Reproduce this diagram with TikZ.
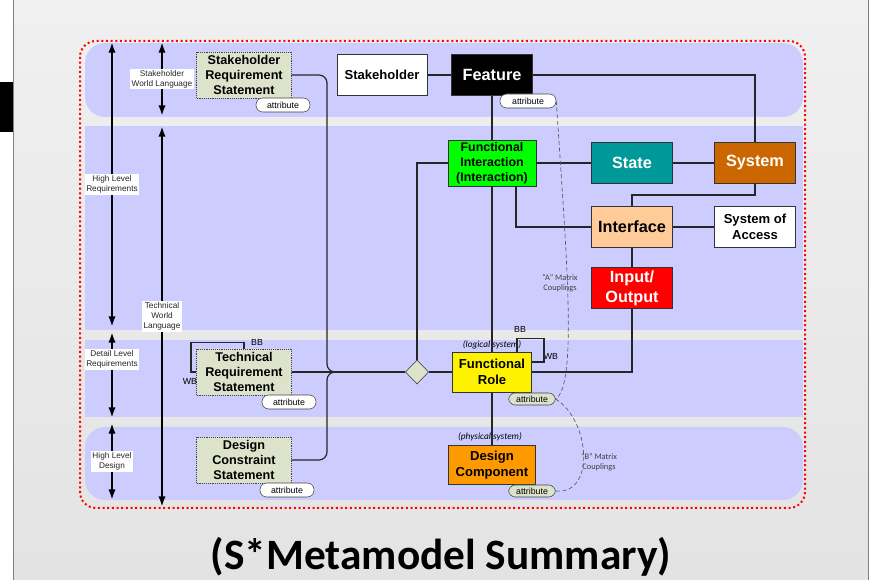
\documentclass[tikz,border=0pt]{standalone}
\usepackage{fontspec}
\setmainfont{Liberation Sans}
\newfontfamily\calibri{Carlito}
\usepackage{tikz}
\usetikzlibrary{shapes,arrows,arrows.meta}
\definecolor{bandblue}{HTML}{CCCCFF}
\definecolor{reqgreen}{HTML}{DDE2CB}
\definecolor{stateteal}{HTML}{009999}
\definecolor{sysbrown}{HTML}{CC6600}
\definecolor{ifpeach}{HTML}{FFCC99}
\definecolor{comporange}{HTML}{FF9900}
\definecolor{slidetop}{HTML}{F0F0F0}
\definecolor{slidebottom}{HTML}{E3E3E3}

\begin{document}
\begin{tikzpicture}[x=0.75pt,y=-0.75pt,
    block_req/.style ={rectangle, draw=black!75, densely dotted, fill=reqgreen,
      align=center, minimum width=71pt, minimum height=34.5pt, inner sep=0.5pt,
      font=\fontsize{9.5}{11.1}\selectfont\bfseries},
    block_center/.style ={rectangle, draw=black!80, fill=white,
      align=center, minimum width=61pt, minimum height=31pt, inner sep=1pt,
      font=\fontsize{9.8}{11.7}\selectfont\bfseries},
    block_big/.style ={block_center, font=\fontsize{12.2}{15}\selectfont\bfseries},
    attr/.style ={rectangle, rounded corners=5pt, draw=black!75, fill=white,
      minimum width=40.5pt, minimum height=10.5pt, inner sep=0pt,
      font=\fontsize{6.6}{7}\selectfont},
    band_label/.style ={fill=white, inner sep=1pt, align=center, text=black!85,
      font=\fontsize{6.2}{7.5}\selectfont},
    small_tag/.style ={inner sep=0pt, font=\fontsize{6.6}{7}\selectfont},
    note/.style ={inner sep=0pt, align=center, text=black!75,
      font=\calibri\fontsize{6.3}{7.5}\selectfont},
    line/.style ={draw=black!85, line width=0.9pt},
    level_span/.style ={draw, line width=1.6pt,
      {Latex[length=8pt,width=5.5pt]}-{Latex[length=8pt,width=5.5pt]}},
    couple/.style ={draw=black!65, densely dashed, line width=0.5pt}]
    \useasboundingbox (0,0) rectangle (871,580);
    % slide background
    \fill[white] (0,0) rectangle (871,580);
    \shade[top color=slidetop, bottom color=slidebottom] (13,0) rectangle (868,580);
    \draw[black!50] (13,0) -- (13,580);
    \draw[black!50] (868,0) -- (868,580);
    \fill[black] (0,82) rectangle (13,132);
    % level bands
    \fill[bandblue, rounded corners=15pt] (85,43) rectangle (803,117);
    \fill[bandblue] (85,126) rectangle (803,330);
    \fill[bandblue] (85,340) rectangle (803,417);
    \fill[bandblue, rounded corners=15pt] (85,427) rectangle (803,500);
    \draw[red, line width=1.5pt, dotted, rounded corners=12pt] (80,41) rectangle (805,508);

    % level arrows on the left
    \foreach \name/\x/\ya/\yb in {hlr/112/42/327, dlr/112/332/418, hld/112/423/500,
        swl/162/42/116, twl/162/126/507} {
      \coordinate (\name_top) at (\x,\ya);
      \coordinate (\name_bot) at (\x,\yb);
    }
    \draw[level_span] (hlr_top) -- node[band_label] (hlr) {High Level\\Requirements} (hlr_bot);
    \draw[level_span] (dlr_top) -- node[band_label, pos=0.32] (dlr) {Detail Level\\Requirements} (dlr_bot);
    \draw[level_span] (hld_top) -- node[band_label] (hld) {High Level\\Design} (hld_bot);
    \draw[level_span] (swl_top) -- node[band_label] (swl) {Stakeholder\\World Language} (swl_bot);
    \draw[level_span] (twl_top) -- node[band_label] (twl) {Technical\\World\\Language} (twl_bot);

    % stakeholder level - row 1
    \node[block_req] (srs) at (244,75) {Stakeholder\\Requirement\\Statement};
    \node[attr] (srs_att) at (283,105) {attribute};
    \node[block_center, minimum width=67.5pt] (stakeholder) at (382,75) {Stakeholder};
    \node[block_big, fill=black, text=white] (feature) at (492,75) {Feature};
    \node[attr, minimum width=42pt] (feature_att) at (528,101) {attribute};
    % high level requirements - row 2
    \node[block_center, fill=green, minimum width=66pt, minimum height=34.5pt, inner sep=0.5pt,
      font=\fontsize{9.3}{11.2}\selectfont\bfseries] (fi) at (492,163) {Functional\\Interaction\\(Interaction)};
    \node[block_big, fill=stateteal, text=white] (state) at (632,163) {State};
    \node[block_big, fill=sysbrown, text=white] (system) at (755,163) {System};
    \node[block_big, fill=ifpeach] (interface) at (632,227) {Interface};
    \node[block_center] (soa) at (755,227) {System of\\Access};
    \node[block_big, fill=red, text=white] (io) at (632,288) {Input/\\Output};
    % detail level - row 3
    \node[block_req] (trs) at (244,372) {Technical\\Requirement\\Statement};
    \node[attr] (trs_att) at (289,402) {attribute};
    \node[diamond, draw=black!80, fill=reqgreen, minimum width=17.5pt,
      minimum height=18pt, inner sep=0pt] (join) at (417,372) {};
    \node[block_center, fill=yellow, minimum width=59pt, minimum height=30pt] (fr) at (492,372) {Functional\\Role};
    \node[attr, fill=reqgreen, minimum width=35pt, minimum height=9pt] (fr_att) at (532,399) {attribute};
    \node[font=\calibri\itshape\fontsize{7}{8}\selectfont, inner sep=0pt] (logical) at (492,345) {(logical system)};
    % high level design - row 4
    \node[block_req] (dcs) at (244,460) {Design\\Constraint\\Statement};
    \node[attr] (dcs_att) at (287,490) {attribute};
    \node[block_center, fill=comporange, minimum width=65pt, minimum height=29pt] (dc) at (492,465) {Design\\Component};
    \node[attr, fill=reqgreen, minimum width=35pt, minimum height=9pt] (dc_att) at (532,491) {attribute};
    \node[font=\calibri\itshape\fontsize{7}{8}\selectfont, inner sep=0pt] (physical) at (490,437) {(physical system)};

    % loop labels and couplings
    \node[small_tag] (fr_bb) at (520,329) {BB};
    \node[small_tag] (fr_wb) at (551,356) {WB};
    \node[small_tag] (trs_bb) at (257,342) {BB};
    \node[small_tag] (trs_wb) at (190,381) {WB};
    \node[note] (a_matrix) at (560,283) {“A” Matrix\\Couplings};
    \node[note] (b_matrix) at (599,462) {“B” Matrix\\Couplings};
    \coordinate (bus) at (327,372);

    % connecting nodes with paths
    \begin{scope}[every path/.style=line]
     \path[rounded corners=6pt] (srs.east) -| (bus) -- (join.west);
     \path[rounded corners=6pt] (dcs.east) -| (bus) -- (join.west);
     \path (trs.east) -- (join.west);
     \path (join.north) |- (fi.west);
     \path (join.east) -- (fr.west);
     \path (stakeholder) -- (feature);
     \path (feature.east) -| (system.north);
     \path (feature) -- (fi);
     \path (fi) -- (fr);
     \path (fr) -- (dc);
     \path (fi) -- (state);
     \path (state) -- (system);
     \path ([xshift=18pt]fi.south) |- (interface.west);
     \path (system.south) -- ++(0,11) -| (interface.north);
     \path (interface) -- (soa);
     \path (interface) -- (io);
     \path (io.south) |- (fr.east);
     \path ([xshift=18.75pt]fr.north) -- ++(0,-13) -- ++(27,0) |- ([yshift=7.5pt]fr.east);
     \path (trs.north) -- ++(0,-6) -- ++(-53,0) |- (trs.west);
    \end{scope}
    \draw[couple] (feature_att.east) .. controls (566,250) and (578,385) .. (fr_att.east);
    \draw[couple] (fr_att.east) .. controls (590,420) and (596,495) .. (dc_att.east);

    % title
    \node[font=\calibri\bfseries\fontsize{32.5}{36}\selectfont] (title) at (441,557) {(S*Metamodel Summary)};
\end{tikzpicture}
\end{document}
